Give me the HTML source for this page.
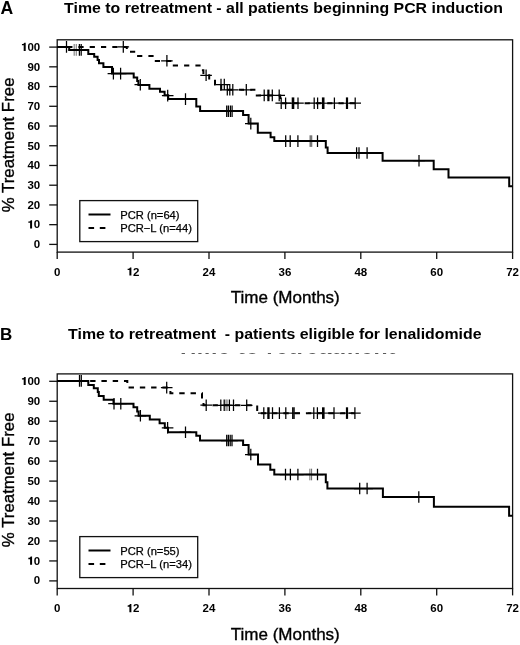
<!DOCTYPE html>
<html><head><meta charset="utf-8"><style>
html,body{margin:0;padding:0;background:#fff;}
svg{display:block;will-change:transform;}
text{font-family:"Liberation Sans",sans-serif;fill:#000;}
.tk{font-size:11.5px;font-weight:bold;}
.lg{font-size:11.2px;stroke:#000;stroke-width:0.25px;}
.ax{font-size:17px;stroke:#000;stroke-width:0.35px;}
.ti{font-size:15.5px;font-weight:bold;}
.pl{font-size:17px;font-weight:bold;}
</style></head><body>
<svg width="520" height="645" viewBox="0 0 520 645">
<rect width="520" height="645" fill="#fff"/>
<text x="0.4" y="13.8" class="pl" style="font-size:17.6px">A</text>
<text x="64.1" y="12.7" class="ti" textLength="438.8" lengthAdjust="spacingAndGlyphs">Time to retreatment - all patients beginning PCR induction</text>
<text x="0" y="339.9" class="pl">B</text>
<text x="68.1" y="338.9" class="ti" textLength="413.4" lengthAdjust="spacingAndGlyphs" xml:space="preserve">Time to retreatment  - patients eligible for lenalidomide</text>
<clipPath id="gc"><rect x="170" y="352.9" width="240" height="1.3"/></clipPath>
<text x="176.2" y="354.3" style="font-size:23px;font-weight:bold;fill:#5a5a5a;letter-spacing:0.28px" clip-path="url(#gc)">Time to retreatment</text>
<rect x="57.2" y="39.8" width="455.4" height="212.3" fill="none" stroke="#111" stroke-width="1.3"/>
<path d="M49.2,244.40H57.2" stroke="#111" stroke-width="1.3"/>
<text x="33.81" y="247.80" class="tk">0</text>
<path d="M49.2,224.67H57.2" stroke="#111" stroke-width="1.3"/>
<path d="M233,0H407V712H285C266,640 205,602 80,598V488H233Z" transform="translate(27.41,228.47) scale(0.01150,-0.01150)" fill="#000"/><text x="33.81" y="228.47" class="tk">0</text>
<path d="M49.2,204.94H57.2" stroke="#111" stroke-width="1.3"/>
<text x="27.41" y="208.74" class="tk">20</text>
<path d="M49.2,185.21H57.2" stroke="#111" stroke-width="1.3"/>
<text x="27.41" y="189.01" class="tk">30</text>
<path d="M49.2,165.48H57.2" stroke="#111" stroke-width="1.3"/>
<text x="27.41" y="169.28" class="tk">40</text>
<path d="M49.2,145.75H57.2" stroke="#111" stroke-width="1.3"/>
<text x="27.41" y="149.55" class="tk">50</text>
<path d="M49.2,126.02H57.2" stroke="#111" stroke-width="1.3"/>
<text x="27.41" y="129.82" class="tk">60</text>
<path d="M49.2,106.29H57.2" stroke="#111" stroke-width="1.3"/>
<text x="27.41" y="110.09" class="tk">70</text>
<path d="M49.2,86.56H57.2" stroke="#111" stroke-width="1.3"/>
<text x="27.41" y="90.36" class="tk">80</text>
<path d="M49.2,66.83H57.2" stroke="#111" stroke-width="1.3"/>
<text x="27.41" y="70.63" class="tk">90</text>
<path d="M49.2,47.10H57.2" stroke="#111" stroke-width="1.3"/>
<path d="M233,0H407V712H285C266,640 205,602 80,598V488H233Z" transform="translate(21.02,50.90) scale(0.01150,-0.01150)" fill="#000"/><text x="27.41" y="50.90" class="tk">00</text>
<path d="M57.20,252.1V259.0" stroke="#111" stroke-width="1.3"/>
<text x="54.00" y="275.60" class="tk">0</text>
<path d="M133.10,252.1V259.0" stroke="#111" stroke-width="1.3"/>
<path d="M233,0H407V712H285C266,640 205,602 80,598V488H233Z" transform="translate(126.71,275.60) scale(0.01150,-0.01150)" fill="#000"/><text x="133.10" y="275.60" class="tk">2</text>
<path d="M209.00,252.1V259.0" stroke="#111" stroke-width="1.3"/>
<text x="202.61" y="275.60" class="tk">24</text>
<path d="M284.90,252.1V259.0" stroke="#111" stroke-width="1.3"/>
<text x="278.51" y="275.60" class="tk">36</text>
<path d="M360.80,252.1V259.0" stroke="#111" stroke-width="1.3"/>
<text x="354.41" y="275.60" class="tk">48</text>
<path d="M436.70,252.1V259.0" stroke="#111" stroke-width="1.3"/>
<text x="430.31" y="275.60" class="tk">60</text>
<path d="M512.60,252.1V259.0" stroke="#111" stroke-width="1.3"/>
<text x="506.21" y="275.60" class="tk">72</text>
<path d="M74.2,44.1V55.699999999999996" stroke="#888" stroke-width="1.2"/><path d="M68.4,49.9H80.0" stroke="#000" stroke-width="1.1"/><path d="M76.3,44.1V55.699999999999996" stroke="#888" stroke-width="1.2"/><path d="M70.5,49.9H82.1" stroke="#000" stroke-width="1.1"/><path d="M310.9,135.29999999999998V146.9" stroke="#777" stroke-width="2.8"/><path d="M305.09999999999997,141.1H316.7" stroke="#000" stroke-width="1.1"/><path d="M268.4,89.60000000000001V101.2" stroke="#000" stroke-width="2.2"/><path d="M262.59999999999997,95.4H274.2" stroke="#000" stroke-width="1.1"/><path d="M293.0,97.4V109.0" stroke="#000" stroke-width="2.6"/><path d="M287.2,103.2H298.8" stroke="#000" stroke-width="1.1"/><path d="M323.2,97.4V109.0" stroke="#000" stroke-width="2.6"/><path d="M317.4,103.2H329.0" stroke="#000" stroke-width="1.1"/><path d="M347.0,97.4V109.0" stroke="#000" stroke-width="2.2"/><path d="M341.2,103.2H352.8" stroke="#000" stroke-width="1.1"/>
<path d="M57.2,46.9 H69.2 V49.9 H88.3 V53.9 H94.2 V56.8 H97.6 V60.1 H99.0 V63.2 H103.4 V66.9 H112.0 V73.5 H133.7 V77.4 H137.2 V81.0 H138.4 V84.9 H149.4 V88.8 H160.0 V91.7 H164.6 V95.2 H168.2 V99.0 H196.3 V106.5 H200.1 V111.1 H243.1 V114.9 H248.6 V123.5 H257.8 V132.8 H270.6 V137.2 H274.3 V141.0 H325.8 V147.6 H327.6 V152.9 H382.6 V160.7 H433.7 V169.2 H448.5 V177.4 H509.2 V186.3 H512.5" fill="none" stroke="#000" stroke-width="2"/>
<path d="M57.2,46.9 H126.8 V51.8 H136.6 V56.0 H154.6 V60.9 H172.2 V65.5 H201.0 V70.3 H203.4 V75.3 H209.2 V79.7 H215.0 V84.5 H221.2 V89.8 H256.8 V95.4 H280.2 V103.2 H355.2" fill="none" stroke="#000" stroke-width="2" stroke-dasharray="5.2 6.1" stroke-dashoffset="1.4"/>
<path d="M66.5,41.1V52.699999999999996M60.7,46.9H72.3 M79.4,44.1V55.699999999999996M73.60000000000001,49.9H85.2 M81.2,44.1V55.699999999999996M75.4,49.9H87.0 M113.4,67.8V79.39999999999999M107.60000000000001,73.6H119.2 M120.6,67.8V79.39999999999999M114.8,73.6H126.39999999999999 M140.3,78.9V90.5M134.5,84.7H146.10000000000002 M167.7,89.8V101.39999999999999M161.89999999999998,95.6H173.5 M185.5,93.3V104.89999999999999M179.7,99.1H191.3 M226.7,105.4V117.0M220.89999999999998,111.2H232.5 M228.4,105.4V117.0M222.6,111.2H234.20000000000002 M230.4,105.4V117.0M224.6,111.2H236.20000000000002 M232.1,105.4V117.0M226.29999999999998,111.2H237.9 M250.8,117.8V129.4M245.0,123.6H256.6 M285.7,135.29999999999998V146.9M279.9,141.1H291.5 M290.2,135.29999999999998V146.9M284.4,141.1H296.0 M297.9,135.29999999999998V146.9M292.09999999999997,141.1H303.7 M317.5,135.29999999999998V146.9M311.7,141.1H323.3 M356.6,147.2V158.8M350.8,153.0H362.40000000000003 M359.0,147.2V158.8M353.2,153.0H364.8 M367.1,147.2V158.8M361.3,153.0H372.90000000000003 M419.0,154.89999999999998V166.5M413.2,160.7H424.8 M123.3,41.1V52.699999999999996M117.5,46.9H129.1 M166.9,55.0V66.6M161.1,60.8H172.70000000000002 M206.1,69.5V81.1M200.29999999999998,75.3H211.9 M221.0,78.8V90.39999999999999M215.2,84.6H226.8 M224.3,78.8V90.39999999999999M218.5,84.6H230.10000000000002 M227.3,84.0V95.6M221.5,89.8H233.10000000000002 M229.8,84.0V95.6M224.0,89.8H235.60000000000002 M232.8,84.0V95.6M227.0,89.8H238.60000000000002 M246.3,84.0V95.6M240.5,89.8H252.10000000000002 M264.2,89.60000000000001V101.2M258.4,95.4H270.0 M272.3,89.60000000000001V101.2M266.5,95.4H278.1 M279.2,89.60000000000001V101.2M273.4,95.4H285.0 M281.2,97.4V109.0M275.4,103.2H287.0 M285.6,97.4V109.0M279.8,103.2H291.40000000000003 M298.0,97.4V109.0M292.2,103.2H303.8 M314.2,97.4V109.0M308.4,103.2H320.0 M317.6,97.4V109.0M311.8,103.2H323.40000000000003 M334.4,97.4V109.0M328.59999999999997,103.2H340.2 M355.2,97.4V109.0M349.4,103.2H361.0" fill="none" stroke="#000" stroke-width="1.25"/>
<rect x="79.8" y="200.6" width="117.9" height="41" fill="#fff" stroke="#111" stroke-width="1.3"/>
<path d="M88.5,214.5H110.5" stroke="#000" stroke-width="2"/>
<path d="M88.5,228.1H110.5" stroke="#000" stroke-width="2" stroke-dasharray="5.6 5.7"/>
<text x="120.2" y="218.8" class="lg">PCR (n=64)</text>
<text x="120.2" y="232.2" class="lg">PCR−L (n=44)</text>
<text x="230.8" y="302.8" class="ax" style="font-size:16.4px" textLength="109" lengthAdjust="spacingAndGlyphs">Time (Months)</text>
<text transform="translate(13.6,144.9) rotate(-90)" x="0" y="0" class="ax" style="font-size:16.85px" text-anchor="middle">% Treatment Free</text>
<rect x="57.2" y="373.9" width="455.4" height="214.6" fill="none" stroke="#111" stroke-width="1.3"/>
<path d="M49.2,580.90H57.2" stroke="#111" stroke-width="1.3"/>
<text x="33.81" y="584.30" class="tk">0</text>
<path d="M49.2,560.94H57.2" stroke="#111" stroke-width="1.3"/>
<path d="M233,0H407V712H285C266,640 205,602 80,598V488H233Z" transform="translate(27.41,564.74) scale(0.01150,-0.01150)" fill="#000"/><text x="33.81" y="564.74" class="tk">0</text>
<path d="M49.2,540.98H57.2" stroke="#111" stroke-width="1.3"/>
<text x="27.41" y="544.78" class="tk">20</text>
<path d="M49.2,521.02H57.2" stroke="#111" stroke-width="1.3"/>
<text x="27.41" y="524.82" class="tk">30</text>
<path d="M49.2,501.06H57.2" stroke="#111" stroke-width="1.3"/>
<text x="27.41" y="504.86" class="tk">40</text>
<path d="M49.2,481.10H57.2" stroke="#111" stroke-width="1.3"/>
<text x="27.41" y="484.90" class="tk">50</text>
<path d="M49.2,461.14H57.2" stroke="#111" stroke-width="1.3"/>
<text x="27.41" y="464.94" class="tk">60</text>
<path d="M49.2,441.18H57.2" stroke="#111" stroke-width="1.3"/>
<text x="27.41" y="444.98" class="tk">70</text>
<path d="M49.2,421.22H57.2" stroke="#111" stroke-width="1.3"/>
<text x="27.41" y="425.02" class="tk">80</text>
<path d="M49.2,401.26H57.2" stroke="#111" stroke-width="1.3"/>
<text x="27.41" y="405.06" class="tk">90</text>
<path d="M49.2,381.30H57.2" stroke="#111" stroke-width="1.3"/>
<path d="M233,0H407V712H285C266,640 205,602 80,598V488H233Z" transform="translate(21.02,385.10) scale(0.01150,-0.01150)" fill="#000"/><text x="27.41" y="385.10" class="tk">00</text>
<path d="M57.20,588.5V595.4" stroke="#111" stroke-width="1.3"/>
<text x="54.00" y="612.30" class="tk">0</text>
<path d="M133.10,588.5V595.4" stroke="#111" stroke-width="1.3"/>
<path d="M233,0H407V712H285C266,640 205,602 80,598V488H233Z" transform="translate(126.71,612.30) scale(0.01150,-0.01150)" fill="#000"/><text x="133.10" y="612.30" class="tk">2</text>
<path d="M209.00,588.5V595.4" stroke="#111" stroke-width="1.3"/>
<text x="202.61" y="612.30" class="tk">24</text>
<path d="M284.90,588.5V595.4" stroke="#111" stroke-width="1.3"/>
<text x="278.51" y="612.30" class="tk">36</text>
<path d="M360.80,588.5V595.4" stroke="#111" stroke-width="1.3"/>
<text x="354.41" y="612.30" class="tk">48</text>
<path d="M436.70,588.5V595.4" stroke="#111" stroke-width="1.3"/>
<text x="430.31" y="612.30" class="tk">60</text>
<path d="M512.60,588.5V595.4" stroke="#111" stroke-width="1.3"/>
<text x="506.21" y="612.30" class="tk">72</text>
<path d="M309.9,468.7V480.3" stroke="#666" stroke-width="1.0"/><path d="M304.09999999999997,474.5H315.7" stroke="#000" stroke-width="1.1"/><path d="M311.6,468.7V480.3" stroke="#666" stroke-width="1.0"/><path d="M305.8,474.5H317.40000000000003" stroke="#000" stroke-width="1.1"/><path d="M226.0,399.5V411.1" stroke="#888" stroke-width="1.2"/><path d="M220.2,405.3H231.8" stroke="#000" stroke-width="1.1"/><path d="M227.1,399.5V411.1" stroke="#888" stroke-width="1.2"/><path d="M221.29999999999998,405.3H232.9" stroke="#000" stroke-width="1.1"/><path d="M323.3,407.3V418.90000000000003" stroke="#000" stroke-width="2.6"/><path d="M317.5,413.1H329.1" stroke="#000" stroke-width="1.1"/><path d="M347.0,407.3V418.90000000000003" stroke="#000" stroke-width="2.2"/><path d="M341.2,413.1H352.8" stroke="#000" stroke-width="1.1"/>
<path d="M57.2,380.9 H88.3 V384.9 H93.8 V388.3 H97.8 V392.1 H98.8 V396.0 H103.7 V399.7 H113.5 V403.7 H133.5 V407.2 H137.2 V411.5 H138.6 V415.8 H149.8 V419.5 H159.6 V423.2 H164.8 V427.8 H168.0 V432.2 H196.3 V435.8 H200.0 V440.5 H243.1 V444.9 H248.6 V454.5 H258.0 V464.6 H270.3 V469.7 H274.3 V474.5 H325.8 V482.2 H327.4 V488.5 H382.9 V497.0 H433.9 V506.8 H509.1 V515.8 H512.6" fill="none" stroke="#000" stroke-width="2"/>
<path d="M57.2,380.9 H127.3 V387.6 H170.4 V393.3 H202.0 V399.3 H203.5 V405.2 H257.2 V413.3 H354.9" fill="none" stroke="#000" stroke-width="2" stroke-dasharray="5.4 5.88" stroke-dashoffset="0.9"/>
<path d="M114.0,397.9V409.5M108.2,403.7H119.8 M120.8,397.9V409.5M115.0,403.7H126.6 M140.4,410.0V421.6M134.6,415.8H146.20000000000002 M167.6,422.0V433.6M161.79999999999998,427.8H173.4 M185.5,426.4V438.0M179.7,432.2H191.3 M226.7,434.7V446.3M220.89999999999998,440.5H232.5 M228.4,434.7V446.3M222.6,440.5H234.20000000000002 M230.2,434.7V446.3M224.39999999999998,440.5H236.0 M232.0,434.7V446.3M226.2,440.5H237.8 M250.8,448.7V460.3M245.0,454.5H256.6 M285.5,468.7V480.3M279.7,474.5H291.3 M290.4,468.7V480.3M284.59999999999997,474.5H296.2 M297.9,468.7V480.3M292.09999999999997,474.5H303.7 M317.5,468.7V480.3M311.7,474.5H323.3 M359.7,482.7V494.3M353.9,488.5H365.5 M367.1,482.7V494.3M361.3,488.5H372.90000000000003 M418.8,491.2V502.8M413.0,497.0H424.6 M79.5,375.09999999999997V386.7M73.7,380.9H85.3 M81.3,375.09999999999997V386.7M75.5,380.9H87.1 M166.7,381.8V393.40000000000003M160.89999999999998,387.6H172.5 M206.2,399.4V411.0M200.39999999999998,405.2H212.0 M220.8,399.5V411.1M215.0,405.3H226.60000000000002 M224.2,399.5V411.1M218.39999999999998,405.3H230.0 M229.4,399.5V411.1M223.6,405.3H235.20000000000002 M233.5,399.5V411.1M227.7,405.3H239.3 M246.7,399.5V411.1M240.89999999999998,405.3H252.5 M263.8,407.3V418.90000000000003M258.0,413.1H269.6 M267.9,407.3V418.90000000000003M262.09999999999997,413.1H273.7 M269.0,407.3V418.90000000000003M263.2,413.1H274.8 M272.5,407.3V418.90000000000003M266.7,413.1H278.3 M279.4,407.3V418.90000000000003M273.59999999999997,413.1H285.2 M285.8,407.3V418.90000000000003M280.0,413.1H291.6 M292.7,407.3V418.90000000000003M286.9,413.1H298.5 M294.1,407.3V418.90000000000003M288.3,413.1H299.90000000000003 M313.8,407.3V418.90000000000003M308.0,413.1H319.6 M317.4,407.3V418.90000000000003M311.59999999999997,413.1H323.2 M334.0,407.3V418.90000000000003M328.2,413.1H339.8 M354.9,407.3V418.90000000000003M349.09999999999997,413.1H360.7" fill="none" stroke="#000" stroke-width="1.25"/>
<rect x="79.8" y="536.6" width="117.9" height="41" fill="#fff" stroke="#111" stroke-width="1.3"/>
<path d="M88.5,550.5H110.5" stroke="#000" stroke-width="2"/>
<path d="M88.5,564.1H110.5" stroke="#000" stroke-width="2" stroke-dasharray="5.6 5.7"/>
<text x="120.2" y="554.8" class="lg">PCR (n=55)</text>
<text x="120.2" y="568.2" class="lg">PCR−L (n=34)</text>
<text x="230.8" y="639.6" class="ax" style="font-size:16.4px" textLength="109" lengthAdjust="spacingAndGlyphs">Time (Months)</text>
<text transform="translate(13.6,479.8) rotate(-90)" x="0" y="0" class="ax" style="font-size:16.85px" text-anchor="middle">% Treatment Free</text>
</svg>
</body></html>
